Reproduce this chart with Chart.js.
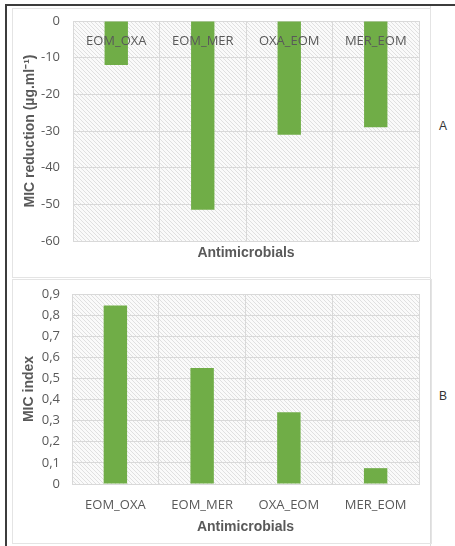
<!DOCTYPE html>
<html>
<head>
<meta charset="utf-8">
<script src="https://cdn.jsdelivr.net/npm/chart.js@4.4.1/dist/chart.umd.min.js"></script>
<style>
  body { margin: 0; background: #fff; width: 455px; height: 546px; position: relative; overflow: hidden; }
  #frameTop { position: absolute; left: 6px; top: 4px; width: 449px; height: 2px; background: #3c3c3c; }
  #frameLeft { position: absolute; left: 5px; top: 4px; width: 2px; height: 542px; background: #3c3c3c; }
  #divider { position: absolute; left: 430px; top: 6px; width: 1px; height: 540px; background: #dcdcdc; }
  .panel { position: absolute; border: 1px solid #e4e4e4; box-sizing: border-box; }
  #panelA { left: 12px; top: 8px; width: 419px; height: 270px; }
  #panelB { left: 12px; top: 279px; width: 420px; height: 265px; }
  canvas { position: absolute; }
  #chartA { left: 12px; top: 7px; }
  #chartB { left: 12px; top: 280px; }
  .tag { position: absolute; font: 12px "Liberation Sans", Arial, sans-serif; color: #333; }
</style>
</head>
<body>
<div id="frameTop"></div>
<div id="frameLeft"></div>
<div id="divider"></div>
<div class="panel" id="panelA"></div>
<div class="panel" id="panelB"></div>
<canvas id="chartA" width="418" height="270"></canvas>
<canvas id="chartB" width="419" height="263"></canvas>
<div class="tag" style="left:439px; top:119px;">A</div>
<div class="tag" style="left:439px; top:389px;">B</div>
<script>
// data
const categories = ['EOM_OXA', 'EOM_MER', 'OXA_EOM', 'MER_EOM'];
const micReduction = [-12, -51.5, -31, -29];
const micIndex = [0.845, 0.55, 0.34, 0.075];
const reductionRange = [-60, 0];
const reductionStep = 10;
const indexRange = [0, 0.9];
const indexStep = 0.1;

const barColor = '#70ad47';
const gridColor = '#d9d9d9';
const textColor = '#595959';
const tickFont = { family: '"Open Sans", sans-serif', size: 13 };
const titleFont = { family: '"Liberation Sans", Arial, sans-serif', size: 14, weight: 'bold' };

// diagonal hatch behind the plot area
const tile = document.createElement('canvas');
tile.width = 4; tile.height = 4;
(function () {
  const g = tile.getContext('2d');
  g.fillStyle = '#fafafa';
  g.fillRect(0, 0, 4, 4);
  g.strokeStyle = '#e0e0e0';
  g.lineWidth = 1;
  g.beginPath();
  g.moveTo(0, 0); g.lineTo(4, 4);
  g.moveTo(-2, 2); g.lineTo(2, 6);
  g.moveTo(2, -2); g.lineTo(6, 2);
  g.stroke();
})();

const plotBg = {
  id: 'plotBg',
  beforeDraw(chart) {
    const { ctx, chartArea: a } = chart;
    ctx.save();
    ctx.fillStyle = ctx.createPattern(tile, 'repeat');
    ctx.fillRect(a.left, a.top, a.right - a.left, a.bottom - a.top);
    ctx.restore();
  }
};

// keep the plot box where the layout padding puts it
function noLabelPad(s) {
  s.paddingTop = 0;
  s.paddingBottom = 0;
}

Chart.defaults.color = textColor;
Chart.defaults.animation = false;

// A: MIC reduction, axis labels sit on the zero line at the top
new Chart(document.getElementById('chartA'), {
  type: 'bar',
  data: {
    labels: categories,
    datasets: [{
      data: micReduction,
      backgroundColor: barColor,
      borderWidth: 0,
      categoryPercentage: 1,
      barPercentage: 0.27
    }]
  },
  options: {
    responsive: false,
    layout: { padding: { top: 14, right: 11, left: 0, bottom: 0 } },
    plugins: { legend: { display: false }, tooltip: { enabled: false } },
    scales: {
      x: {
        position: { y: 0 },
        grid: { color: gridColor, drawTicks: false, offset: true },
        border: { color: gridColor },
        ticks: { font: tickFont, color: textColor, padding: 12, z: 1, maxRotation: 0 },
        afterFit: noLabelPad
      },
      xb: {
        type: 'category',
        position: 'bottom',
        grid: { display: false },
        border: { display: false },
        ticks: { display: false },
        title: { display: true, text: 'Antimicrobials', font: titleFont, color: textColor, padding: { top: 4, bottom: 15.6 } },
        afterFit(s) { s.height = 36; }
      },
      y: {
        min: reductionRange[0],
        max: reductionRange[1],
        ticks: { stepSize: reductionStep, font: tickFont, color: textColor, padding: 13 },
        grid: { color: gridColor, drawTicks: false },
        border: { color: gridColor },
        title: { display: true, text: 'MIC reduction (µg.ml⁻¹)', font: titleFont, color: textColor, padding: { top: 9.6, bottom: 0 } },
        afterFit(s) { s.width = 61; noLabelPad(s); }
      }
    }
  },
  plugins: [plotBg]
});

// B: MIC index
new Chart(document.getElementById('chartB'), {
  type: 'bar',
  data: {
    labels: categories,
    datasets: [{
      data: micIndex,
      backgroundColor: barColor,
      borderWidth: 0,
      categoryPercentage: 1,
      barPercentage: 0.27
    }]
  },
  options: {
    responsive: false,
    layout: { padding: { top: 14, right: 12, left: 0, bottom: 0 } },
    plugins: { legend: { display: false }, tooltip: { enabled: false } },
    scales: {
      x: {
        grid: { color: gridColor, drawTicks: false, offset: true },
        border: { color: gridColor },
        ticks: { font: tickFont, color: textColor, padding: 13.2, maxRotation: 0 },
        title: { display: true, text: 'Antimicrobials', font: titleFont, color: textColor, padding: { top: 0, bottom: 7 } },
        afterFit(s) { s.height = 59; }
      },
      y: {
        min: indexRange[0],
        max: indexRange[1],
        ticks: {
          stepSize: indexStep, font: tickFont, color: textColor, padding: 12,
          callback: v => v === 0 ? '0' : v.toFixed(1).replace('.', ',')
        },
        grid: { color: gridColor, drawTicks: false },
        border: { color: gridColor },
        title: { display: true, text: 'MIC index', font: titleFont, color: textColor, padding: { top: 8.6, bottom: 0 } },
        afterFit(s) { s.width = 60; noLabelPad(s); }
      }
    }
  },
  plugins: [plotBg]
});
</script>
</body>
</html>
